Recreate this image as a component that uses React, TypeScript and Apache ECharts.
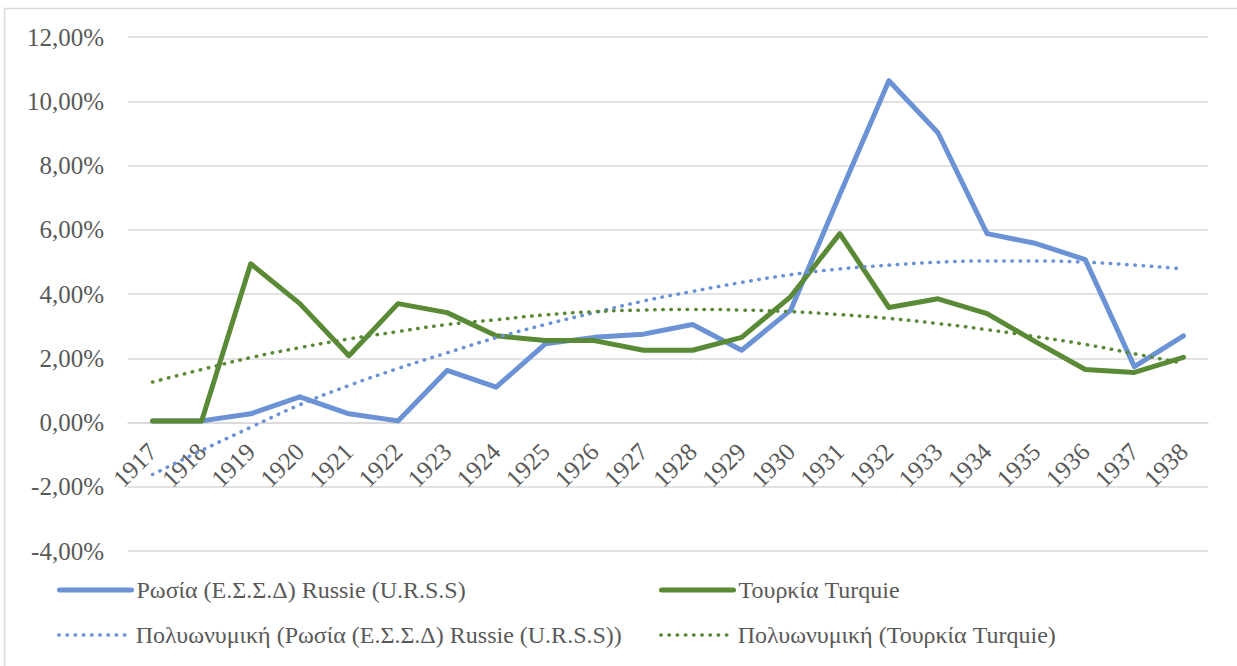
import React, { useEffect, useRef } from "react";
import * as echarts from "echarts";

const years = ["1917","1918","1919","1920","1921","1922","1923","1924","1925","1926","1927","1928","1929","1930","1931","1932","1933","1934","1935","1936","1937","1938"];

const russia = [0.05, 0.05, 0.27, 0.8, 0.27, 0.05, 1.62, 1.1, 2.45, 2.65, 2.75, 3.05, 2.25, 3.5, 7.1, 10.64, 9.02, 5.88, 5.57, 5.07, 1.74, 2.7];
const turkey = [0.05, 0.05, 4.94, 3.7, 2.08, 3.7, 3.42, 2.7, 2.55, 2.55, 2.25, 2.25, 2.65, 3.92, 5.88, 3.58, 3.85, 3.39, 2.5, 1.65, 1.56, 2.03];
const russiaTrend = [-1.62, -0.87, -0.15, 0.55, 1.15, 1.68, 2.17, 2.64, 3.05, 3.42, 3.78, 4.08, 4.36, 4.6, 4.78, 4.9, 4.99, 5.03, 5.03, 4.99, 4.9, 4.78];
const turkeyTrend = [1.26, 1.65, 2.02, 2.33, 2.6, 2.83, 3.05, 3.2, 3.35, 3.45, 3.5, 3.52, 3.5, 3.45, 3.36, 3.24, 3.08, 2.89, 2.67, 2.43, 2.14, 1.84];

const names = [
  "Ρωσία (Ε.Σ.Σ.Δ) Russie (U.R.S.S)",
  "Τουρκία Turquie",
  "Πολυωνυμική (Ρωσία (Ε.Σ.Σ.Δ) Russie (U.R.S.S))",
  "Πολυωνυμική (Τουρκία Turquie)",
];

const BLUE = "#6a92d5";
const GREEN = "#5a8a36";
const TEXT = "#595959";
const FONT = "Liberation Serif, DejaVu Serif, serif";
const DOTS = [0.5, 7.7];

export default function App() {
  const ref = useRef<HTMLDivElement>(null);
  useEffect(() => {
    if (!ref.current) return;
    const chart = echarts.init(ref.current, undefined, { renderer: "svg" });
    const legendBase = (name: string, left: number, top: number, color: string, dotted: boolean) => ({
      data: [name],
      left,
      top,
      padding: 0,
      orient: "horizontal",
      itemWidth: 72,
      itemHeight: 14,
      selectedMode: false,
      itemStyle: { color: "transparent", borderWidth: 0, opacity: 0 },
      lineStyle: dotted
        ? { color, width: 3.5, type: DOTS, cap: "round" }
        : { color, width: 5, type: "solid", cap: "round" },
      textStyle: { color: TEXT, fontFamily: FONT, fontSize: 24, lineHeight: 26 },
    });
    chart.setOption({
      animation: false,
      backgroundColor: "#ffffff",
      graphic: [
        {
          type: "rect",
          shape: { x: 4.5, y: 8.5, width: 1300, height: 700 },
          style: { fill: "none", stroke: "#d9d9d9", lineWidth: 1.5 },
          silent: true,
          z: -10,
        },
      ],
      grid: { left: 128, right: 29, top: 37, bottom: 115, containLabel: false },
      legend: [
        legendBase(names[0], 57, 577, BLUE, false),
        legendBase(names[1], 659, 577, GREEN, false),
        legendBase(names[2], 57, 622, BLUE, true),
        legendBase(names[3], 659, 622, GREEN, true),
      ],
      xAxis: {
        type: "category",
        data: years,
        boundaryGap: true,
        offset: -128.5,
        axisLine: { show: true, onZero: false, lineStyle: { color: "#d9d9d9", width: 1.5 } },
        axisTick: { show: false },
        axisLabel: {
          rotate: 45,
          margin: 25,
          interval: 0,
          color: TEXT,
          fontFamily: FONT,
          fontSize: 25,
        },
      },
      yAxis: {
        type: "value",
        min: -4,
        max: 12,
        interval: 2,
        axisLine: { show: false },
        axisTick: { show: false },
        splitLine: { lineStyle: { color: "#d9d9d9", width: 1.5 } },
        axisLabel: {
          margin: 24,
          color: TEXT,
          fontFamily: FONT,
          fontSize: 25,
          formatter: (v: number) => v.toFixed(2).replace(".", ",") + "%",
        },
      },
      series: [
        {
          name: names[0],
          type: "line",
          data: russia,
          symbol: "none",
          lineStyle: { color: BLUE, width: 5, cap: "round", join: "round" },
          itemStyle: { color: BLUE },
          z: 2,
        },
        {
          name: names[1],
          type: "line",
          data: turkey,
          symbol: "none",
          lineStyle: { color: GREEN, width: 5, cap: "round", join: "round" },
          itemStyle: { color: GREEN },
          z: 3,
        },
        {
          name: names[2],
          type: "line",
          data: russiaTrend,
          symbol: "none",
          smooth: true,
          lineStyle: { color: BLUE, width: 3.5, type: DOTS, cap: "round" },
          itemStyle: { color: BLUE },
          z: 4,
        },
        {
          name: names[3],
          type: "line",
          data: turkeyTrend,
          symbol: "none",
          smooth: true,
          lineStyle: { color: GREEN, width: 3.5, type: DOTS, cap: "round" },
          itemStyle: { color: GREEN },
          z: 5,
        },
      ],
    });
    return () => chart.dispose();
  }, []);
  return (
    <div
      ref={ref}
      style={{ position: "absolute", left: 0, top: 0, width: 1237, height: 666 }}
    />
  );
}
